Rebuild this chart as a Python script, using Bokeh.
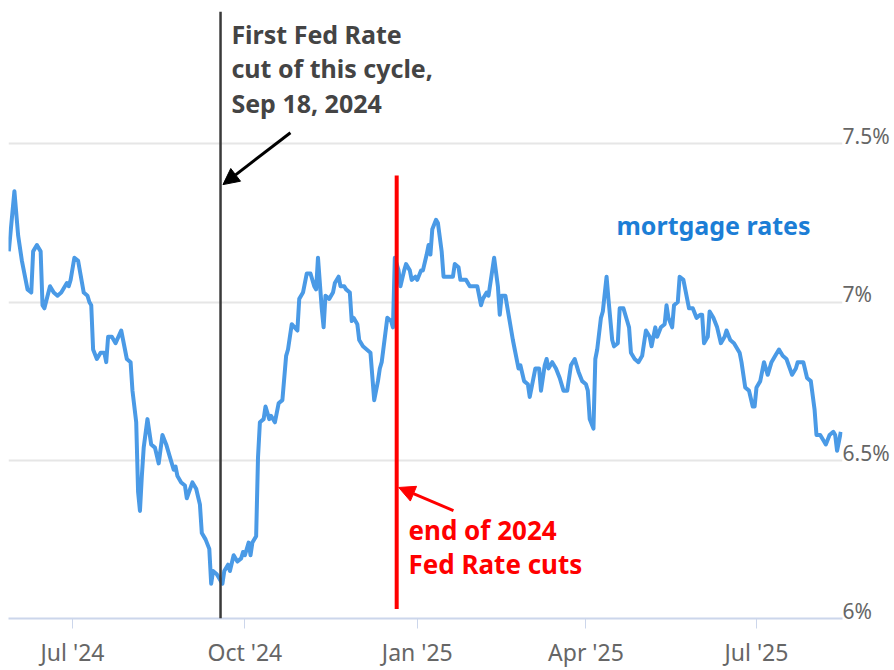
import pandas as pd
from bokeh.plotting import figure
from bokeh.models import (Range1d, FixedTicker, DatetimeTickFormatter, LinearAxis,
                          Span, Arrow, NormalHead)
from bokeh.core.properties import value
from bokeh.embed import file_html
from bokeh.resources import INLINE

# ---------------- data ----------------
dates = [
    "2024-05-28", "2024-05-31", "2024-06-02", "2024-06-04", "2024-06-07", "2024-06-09",
    "2024-06-10", "2024-06-12", "2024-06-14", "2024-06-15", "2024-06-16", "2024-06-19",
    "2024-06-21", "2024-06-23", "2024-06-25", "2024-06-28", "2024-06-29", "2024-06-30",
    "2024-07-02", "2024-07-04", "2024-07-07", "2024-07-09", "2024-07-10", "2024-07-11",
    "2024-07-12", "2024-07-14", "2024-07-16", "2024-07-18", "2024-07-19", "2024-07-20",
    "2024-07-22", "2024-07-24", "2024-07-27", "2024-07-28", "2024-07-30", "2024-08-01",
    "2024-08-02", "2024-08-04", "2024-08-05", "2024-08-06", "2024-08-07", "2024-08-08",
    "2024-08-10", "2024-08-12", "2024-08-14", "2024-08-16", "2024-08-18", "2024-08-20",
    "2024-08-22", "2024-08-24", "2024-08-25", "2024-08-26", "2024-08-28", "2024-08-30",
    "2024-08-31", "2024-09-03", "2024-09-05", "2024-09-07", "2024-09-08", "2024-09-10",
    "2024-09-12", "2024-09-13", "2024-09-14", "2024-09-16", "2024-09-19", "2024-09-20",
    "2024-09-22", "2024-09-23", "2024-09-25", "2024-09-27", "2024-09-29", "2024-09-30",
    "2024-10-01", "2024-10-03", "2024-10-04", "2024-10-05", "2024-10-07", "2024-10-08",
    "2024-10-09", "2024-10-11", "2024-10-12", "2024-10-14", "2024-10-15", "2024-10-17",
    "2024-10-19", "2024-10-21", "2024-10-23", "2024-10-24", "2024-10-26", "2024-10-29",
    "2024-10-30", "2024-11-01", "2024-11-03", "2024-11-05", "2024-11-07", "2024-11-08",
    "2024-11-09", "2024-11-11", "2024-11-12", "2024-11-13", "2024-11-15", "2024-11-17",
    "2024-11-18", "2024-11-20", "2024-11-21", "2024-11-23", "2024-11-24", "2024-11-26",
    "2024-11-27", "2024-11-28", "2024-11-30", "2024-12-01", "2024-12-03", "2024-12-05",
    "2024-12-07", "2024-12-09", "2024-12-11", "2024-12-12", "2024-12-13", "2024-12-16",
    "2024-12-18", "2024-12-19", "2024-12-20", "2024-12-22", "2024-12-23", "2024-12-25",
    "2024-12-26", "2024-12-28", "2024-12-29", "2024-12-31", "2025-01-01", "2025-01-03",
    "2025-01-04", "2025-01-06", "2025-01-07", "2025-01-08", "2025-01-09", "2025-01-11",
    "2025-01-12", "2025-01-14", "2025-01-15", "2025-01-17", "2025-01-20", "2025-01-21",
    "2025-01-23", "2025-01-24", "2025-01-27", "2025-01-29", "2025-02-02", "2025-02-04",
    "2025-02-05", "2025-02-07", "2025-02-08", "2025-02-11", "2025-02-13", "2025-02-14",
    "2025-02-15", "2025-02-17", "2025-02-19", "2025-02-21", "2025-02-22", "2025-02-24",
    "2025-02-25", "2025-02-27", "2025-03-01", "2025-03-02", "2025-03-05", "2025-03-07",
    "2025-03-08", "2025-03-10", "2025-03-11", "2025-03-12", "2025-03-14", "2025-03-16",
    "2025-03-18", "2025-03-20", "2025-03-22", "2025-03-24", "2025-03-26", "2025-03-28",
    "2025-03-30", "2025-04-01", "2025-04-02", "2025-04-03", "2025-04-05", "2025-04-06",
    "2025-04-07", "2025-04-09", "2025-04-10", "2025-04-12", "2025-04-13", "2025-04-15",
    "2025-04-16", "2025-04-18", "2025-04-19", "2025-04-21", "2025-04-23", "2025-04-24",
    "2025-04-25", "2025-04-27", "2025-04-29", "2025-05-01", "2025-05-03", "2025-05-05",
    "2025-05-06", "2025-05-08", "2025-05-09", "2025-05-11", "2025-05-13", "2025-05-14",
    "2025-05-15", "2025-05-17", "2025-05-18", "2025-05-20", "2025-05-21", "2025-05-23",
    "2025-05-26", "2025-05-28", "2025-05-30", "2025-06-01", "2025-06-02", "2025-06-03",
    "2025-06-05", "2025-06-06", "2025-06-08", "2025-06-10", "2025-06-12", "2025-06-14",
    "2025-06-15", "2025-06-17", "2025-06-19", "2025-06-22", "2025-06-23", "2025-06-25",
    "2025-06-27", "2025-06-29", "2025-06-30", "2025-07-01", "2025-07-03", "2025-07-05",
    "2025-07-07", "2025-07-09", "2025-07-11", "2025-07-13", "2025-07-15", "2025-07-17",
    "2025-07-20", "2025-07-22", "2025-07-23", "2025-07-26", "2025-07-28", "2025-07-30",
    "2025-08-01", "2025-08-02", "2025-08-04", "2025-08-06", "2025-08-07", "2025-08-09",
    "2025-08-11", "2025-08-12", "2025-08-13", "2025-08-14", "2025-08-15",
]
rates = [
    7.16, 7.35, 7.21, 7.13, 7.04, 7.03,
    7.16, 7.18, 7.16, 6.99, 6.98, 7.05,
    7.03, 7.02, 7.03, 7.06, 7.05, 7.07,
    7.14, 7.13, 7.03, 7.02, 7.00, 6.99,
    6.85, 6.82, 6.84, 6.84, 6.81, 6.89,
    6.89, 6.87, 6.91, 6.88, 6.82, 6.81,
    6.72, 6.62, 6.40, 6.34, 6.45, 6.54,
    6.63, 6.55, 6.54, 6.49, 6.58, 6.55,
    6.51, 6.47, 6.48, 6.45, 6.43, 6.42,
    6.38, 6.43, 6.41, 6.36, 6.27, 6.25,
    6.22, 6.11, 6.15, 6.14, 6.11, 6.15,
    6.17, 6.15, 6.20, 6.18, 6.19, 6.21,
    6.20, 6.24, 6.20, 6.24, 6.26, 6.51,
    6.62, 6.63, 6.67, 6.63, 6.64, 6.62,
    6.68, 6.69, 6.83, 6.85, 6.93, 6.91,
    7.01, 7.03, 7.09, 7.09, 7.05, 7.04,
    7.14, 6.98, 6.92, 7.02, 7.01, 7.03,
    7.06, 7.08, 7.05, 7.05, 7.04, 7.03,
    6.94, 6.95, 6.93, 6.88, 6.86, 6.85,
    6.84, 6.69, 6.75, 6.79, 6.81, 6.95,
    6.94, 6.92, 7.14, 7.10, 7.05, 7.10,
    7.12, 7.10, 7.07, 7.08, 7.07, 7.10,
    7.10, 7.15, 7.18, 7.15, 7.23, 7.26,
    7.25, 7.16, 7.08, 7.08, 7.08, 7.12,
    7.11, 7.07, 7.07, 7.05, 7.05, 6.99,
    7.01, 7.03, 7.02, 7.14, 7.05, 6.96,
    7.02, 7.02, 6.95, 6.88, 6.85, 6.79,
    6.80, 6.75, 6.74, 6.70, 6.79, 6.79,
    6.72, 6.80, 6.82, 6.79, 6.81, 6.79,
    6.76, 6.72, 6.72, 6.80, 6.82, 6.78,
    6.75, 6.74, 6.72, 6.63, 6.60, 6.82,
    6.85, 6.95, 6.97, 7.08, 7.01, 6.88,
    6.86, 6.87, 6.98, 6.98, 6.94, 6.92,
    6.84, 6.82, 6.81, 6.83, 6.91, 6.89,
    6.86, 6.92, 6.89, 6.92, 6.93, 6.99,
    6.95, 6.92, 6.99, 7.00, 7.08, 7.07,
    6.98, 6.98, 6.95, 6.96, 6.96, 6.87,
    6.89, 6.97, 6.95, 6.92, 6.87, 6.89,
    6.91, 6.88, 6.87, 6.84, 6.81, 6.73,
    6.72, 6.67, 6.67, 6.73, 6.75, 6.81,
    6.77, 6.81, 6.83, 6.85, 6.83, 6.82,
    6.77, 6.79, 6.81, 6.81, 6.76, 6.75,
    6.66, 6.58, 6.58, 6.56, 6.55, 6.58,
    6.59, 6.58, 6.53, 6.56, 6.59,
]
tick_dates = ["2024-07-01", "2024-10-01", "2025-01-01", "2025-04-01", "2025-07-01"]
tick_labels = ["Jul '24", "Oct '24", "Jan '25", "Apr '25", "Jul '25"]
y_ticks = [6.0, 6.5, 7.0, 7.5]
y_labels = ["6%", "6.5%", "7%", "7.5%"]
first_cut_date = "2024-09-18"
last_cut_marker_date = "2024-12-21"
fed_note = ["First Fed Rate", "cut of this cycle,", "Sep 18, 2024"]
end_note = ["end of 2024", "Fed Rate cuts"]
series_name = "mortgage rates"


def ms(s):
    return pd.Timestamp(s).value / 1e6


x = pd.to_datetime(dates)

Y0, Y1 = 6.0, 7.918
p = figure(width=894, height=670, output_backend="svg", toolbar_location=None,
           x_axis_type="datetime",
           x_range=Range1d(ms("2024-05-27 20:24"), ms("2025-08-15 21:36")),
           y_range=Range1d(Y0, Y1),
           min_border_left=8, min_border_top=11, min_border_bottom=49, min_border_right=52)
p.outline_line_color = None
p.background_fill_color = "white"
p.border_fill_color = "white"

# x axis
xa = p.xaxis[0]
xa.ticker = FixedTicker(ticks=[ms(d) for d in tick_dates])
xa.formatter = DatetimeTickFormatter(months="%b '%y", days="%b '%y", years="%b '%y")
xa.major_label_overrides = {ms(d): lab for d, lab in zip(tick_dates, tick_labels)}
xa.axis_line_color = "#ccd6eb"
xa.axis_line_width = 2
xa.major_tick_line_color = "#ccd6eb"
xa.major_tick_line_width = 1
xa.major_tick_out = 10
xa.major_tick_in = 0
xa.minor_tick_line_color = None
xa.major_label_text_font = "Noto Sans"
xa.major_label_text_font_size = "23px"
xa.major_label_text_color = "#666666"
xa.major_label_standoff = 7

# hide default left axis
p.yaxis.visible = False

# gridlines
p.xgrid.visible = False
p.ygrid.ticker = FixedTicker(ticks=y_ticks)
p.ygrid.grid_line_color = "#e6e6e6"
p.ygrid.grid_line_width = 2

# right axis, labels sit just above the gridlines
shift = 0.024
p.extra_y_ranges = {"labels": Range1d(Y0 - shift, Y1 - shift)}
ra = LinearAxis(y_range_name="labels", ticker=FixedTicker(ticks=y_ticks))
ra.major_label_overrides = {t: lab for t, lab in zip(y_ticks, y_labels)}
ra.axis_line_color = None
ra.major_tick_line_color = None
ra.minor_tick_line_color = None
ra.major_tick_in = 0
ra.major_tick_out = 0
ra.major_label_standoff = 0
ra.major_label_text_font = "Noto Sans"
ra.major_label_text_font_size = "21px"
ra.major_label_text_color = "#666666"
p.add_layout(ra, "right")

# series
p.line(x, rates, line_color="#4a9ae6", line_width=4, line_join="round")

# fed lines
p.add_layout(Span(location=ms(first_cut_date), dimension="height",
                  line_color="#3a3a3a", line_width=2.5))
p.segment(x0=[pd.Timestamp(last_cut_marker_date)], y0=[6.03],
          x1=[pd.Timestamp(last_cut_marker_date)], y1=[7.40],
          line_color="#ff0000", line_width=4)

# arrows
p.add_layout(Arrow(end=NormalHead(size=16, fill_color="black", line_color="black"),
                   x_start=ms("2024-10-25 07:00"), y_start=7.535,
                   x_end=ms("2024-09-19 07:00"), y_end=7.371,
                   line_color="black", line_width=3))
p.add_layout(Arrow(end=NormalHead(size=16, fill_color="#ff0000", line_color="#ff0000"),
                   x_start=ms("2025-01-20 07:00"), y_start=6.341,
                   x_end=ms("2024-12-22 02:00"), y_end=6.414,
                   line_color="#ff0000", line_width=3))

# texts
p.text(x=[pd.Timestamp("2024-09-23 19:00")] * 3, y=[7.848, 7.738, 7.628], text=fed_note,
       text_font=value("Noto Sans"), text_font_style="bold", text_font_size="25px",
       text_color="#444444", text_baseline="alphabetic", text_align="left")
p.text(x=[pd.Timestamp("2024-12-27 07:00")] * 2, y=[6.280, 6.173], text=end_note,
       text_font=value("Noto Sans"), text_font_style="bold", text_font_size="26px",
       text_color="#ff0000", text_baseline="alphabetic", text_align="left")
p.text(x=[pd.Timestamp("2025-04-17 07:00")], y=[7.243], text=[series_name],
       text_font=value("Noto Sans"), text_font_style="bold", text_font_size="25px",
       text_color="#1c7ed6", text_baseline="alphabetic", text_align="left")

open("out.html", "w").write(file_html(p, INLINE))
